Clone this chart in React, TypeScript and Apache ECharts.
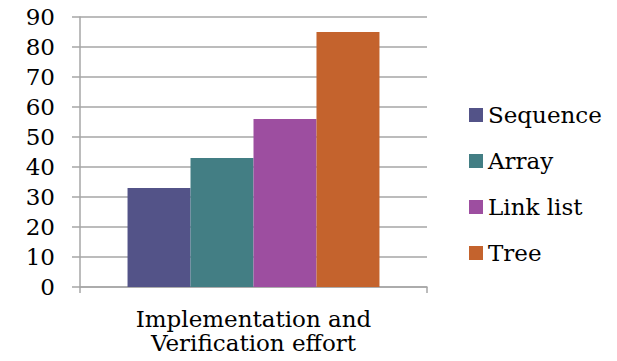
import React, { useEffect, useRef } from "react";
import * as echarts from "echarts";

const categories = ["Implementation and\nVerification effort"];
const seriesNames = ["Sequence", "Array", "Link list", "Tree"];
const seriesValues = [[33], [43], [56], [85]];
const colors = ["#535388", "#437E84", "#9D4EA0", "#C4632D"];

const FONT = "'DejaVu Serif', 'Liberation Serif', serif";

export default function App() {
  const ref = useRef<HTMLDivElement>(null);
  useEffect(() => {
    const chart = echarts.init(ref.current!, null, { renderer: "svg" });
    chart.setOption({
      animation: false,
      backgroundColor: "#ffffff",
      textStyle: { fontFamily: FONT },
      grid: { left: 80, right: 190, top: 17, bottom: 74 },
      legend: {
        orient: "vertical",
        left: 469,
        top: 103,
        padding: 0,
        itemWidth: 14,
        itemHeight: 14,
        itemGap: 22,
        icon: "rect",
        textStyle: { fontFamily: FONT, fontSize: 23, lineHeight: 24, color: "#000" },
        data: seriesNames,
      },
      xAxis: {
        type: "category",
        data: categories,
        axisLine: { lineStyle: { color: "#A6A6A6", width: 1.5 } },
        axisTick: { show: true, length: 6, lineStyle: { color: "#A6A6A6", width: 1.5 } },
        axisLabel: { fontFamily: FONT, fontSize: 23, color: "#000", lineHeight: 24, margin: 20 },
      },
      yAxis: {
        type: "value",
        min: 0,
        max: 90,
        interval: 10,
        axisLine: { show: true, lineStyle: { color: "#A6A6A6", width: 1.5 } },
        axisTick: { show: true, length: 8, lineStyle: { color: "#A6A6A6", width: 1.5 } },
        splitLine: { lineStyle: { color: "#A6A6A6", width: 1.5 } },
        axisLabel: { fontFamily: FONT, fontSize: 23, color: "#000", margin: 25 },
      },
      series: seriesNames.map((name, i) => ({
        name,
        type: "bar",
        data: seriesValues[i],
        barGap: "0%",
        barCategoryGap: "27.4%",
        itemStyle: { color: colors[i] },
      })),
    });
    return () => chart.dispose();
  }, []);
  return <div ref={ref} style={{ width: 617, height: 361, position: "absolute", left: 0, top: 0 }} />;
}
